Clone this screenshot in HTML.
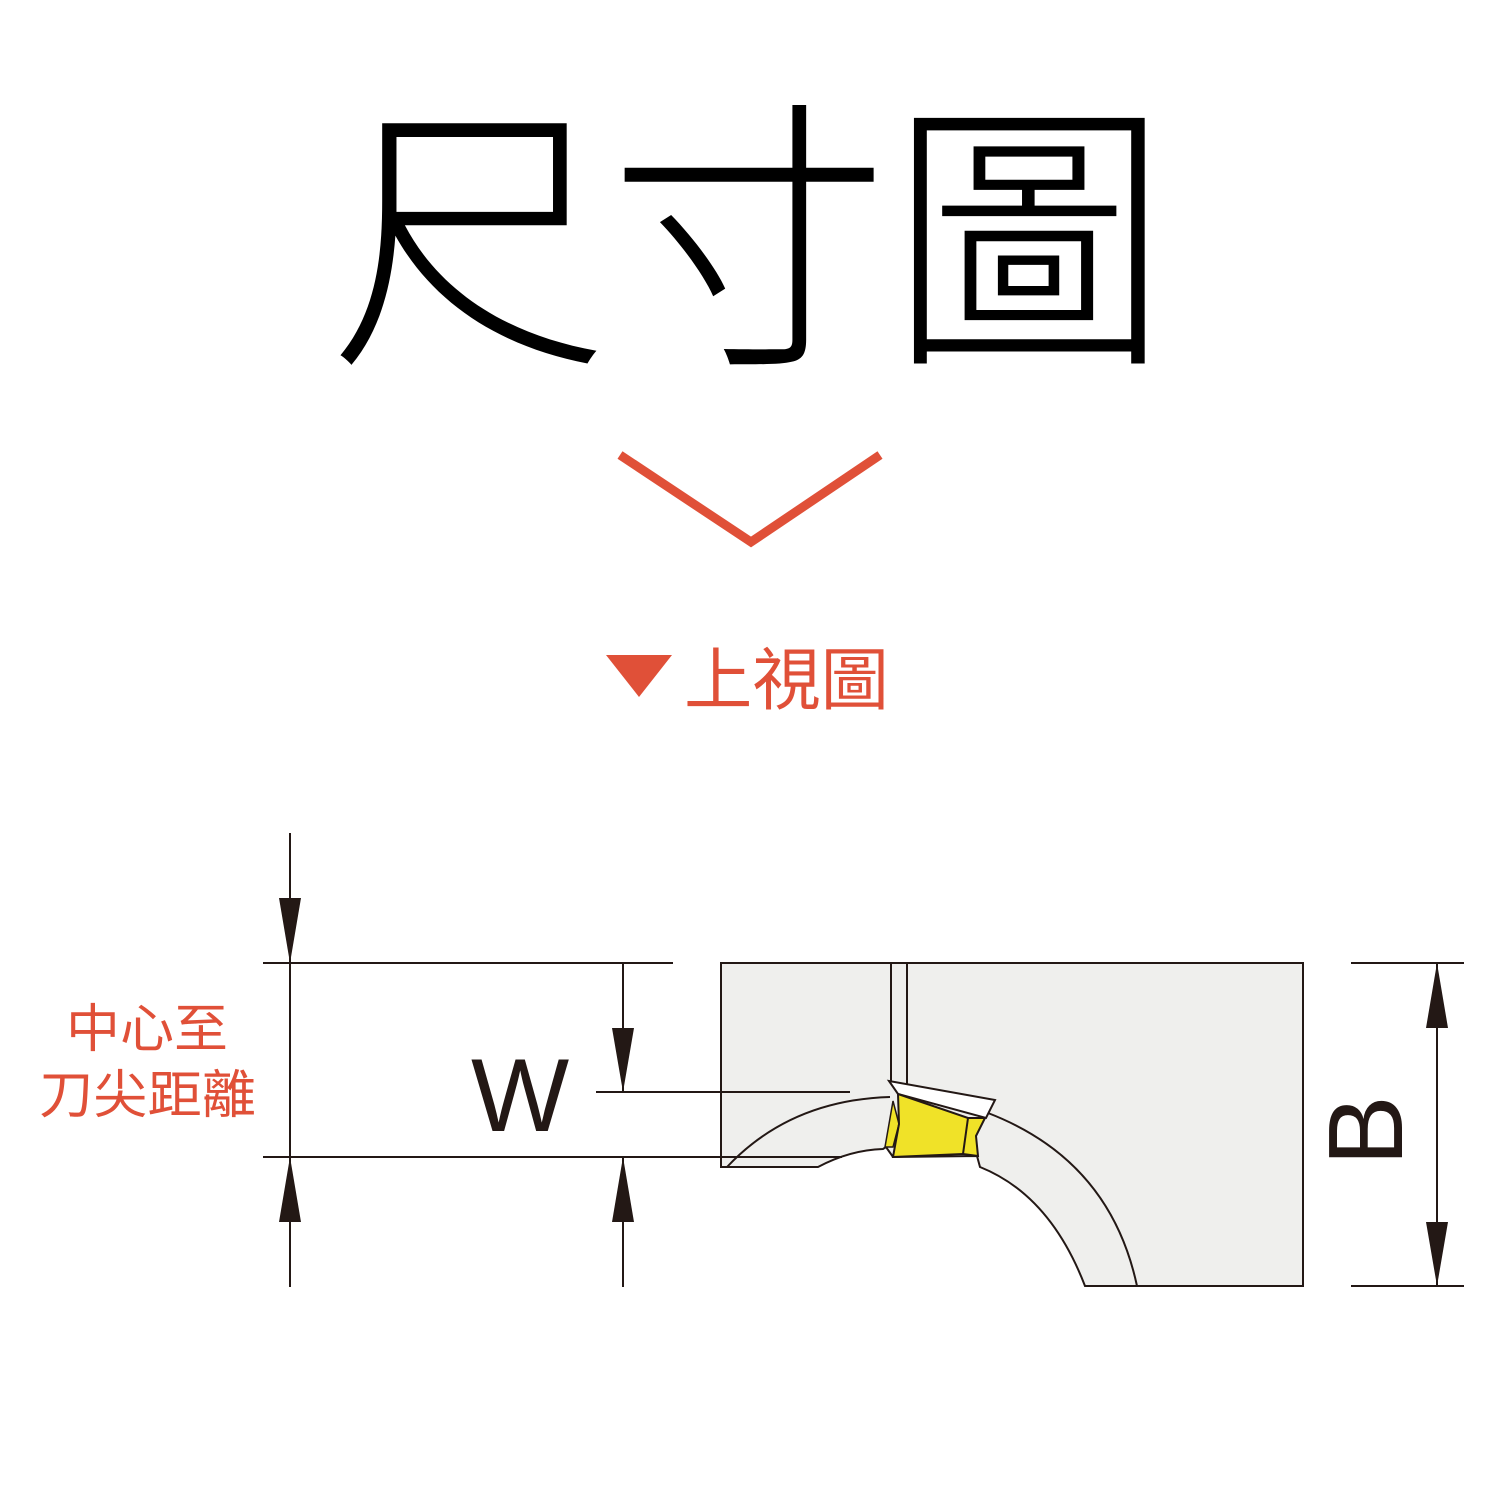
<!DOCTYPE html>
<html><head><meta charset="utf-8"><style>
html,body{margin:0;padding:0;background:#fff;}
svg{display:block;}
</style></head><body>
<svg width="1500" height="1500" viewBox="0 0 1500 1500" xmlns="http://www.w3.org/2000/svg">
<text x="329" y="343" font-family="'Noto Sans CJK TC','Noto Sans CJK SC',sans-serif" font-weight="300" font-size="285" textLength="840" lengthAdjust="spacingAndGlyphs" fill="#000">尺寸圖</text>
<polyline points="620,455 751,542 880,455" fill="none" stroke="#e05038" stroke-width="9"/>
<polygon points="606,655 672,655 639,697" fill="#e05038"/>
<text x="684" y="704" font-family="'Liberation Sans','Noto Sans CJK TC',sans-serif" font-size="68" textLength="205" lengthAdjust="spacingAndGlyphs" fill="#e05038">上視圖</text>
<text x="66" y="1047" font-family="'Liberation Sans','Noto Sans CJK TC',sans-serif" font-size="52" textLength="162" lengthAdjust="spacingAndGlyphs" fill="#e05038">中心至</text>
<text x="39" y="1113" font-family="'Liberation Sans','Noto Sans CJK TC',sans-serif" font-size="52" textLength="217" lengthAdjust="spacingAndGlyphs" fill="#e05038">刀尖距離</text>
<!-- block -->
<path d="M721,963 L1303,963 L1303,1286 L1085,1286 Q1050,1195 980,1167 L977,1156 L893,1157 L886,1147 L883,1149 Q850,1150 818,1167 L721,1167 Z" fill="#efefed" stroke="#231815" stroke-width="2"/>
<line x1="891" y1="963" x2="891" y2="1083" stroke="#231815" stroke-width="2"/>
<line x1="907" y1="963" x2="907" y2="1085" stroke="#231815" stroke-width="2"/>
<path d="M727,1167 Q790,1100 890,1097" fill="none" stroke="#231815" stroke-width="2"/>
<path d="M988,1113 Q1110,1160 1137,1286" fill="none" stroke="#231815" stroke-width="2"/>
<polygon points="889,1081 995,1100 986,1118 898,1094" fill="#fff" stroke="#231815" stroke-width="2"/>
<polygon points="893,1101 899,1124 893,1147 885,1147" fill="#f0e228" stroke="#231815" stroke-width="1.5"/>
<polygon points="898,1094 968,1118 985,1118 976,1136 978,1156 963,1154 893,1157 899,1124" fill="#f0e228" stroke="#231815" stroke-width="2"/>
<line x1="968" y1="1118" x2="963" y2="1154" stroke="#231815" stroke-width="2"/>
<!-- dims -->
<g stroke="#231815" stroke-width="2">
<line x1="263" y1="963" x2="673" y2="963"/>
<line x1="263" y1="1157" x2="842" y2="1157"/>
<line x1="596" y1="1092" x2="850" y2="1092"/>
<line x1="290" y1="833" x2="290" y2="1287"/>
<line x1="623" y1="963" x2="623" y2="1092"/>
<line x1="623" y1="1157" x2="623" y2="1287"/>
<line x1="1351" y1="963" x2="1464" y2="963"/>
<line x1="1351" y1="1286" x2="1464" y2="1286"/>
<line x1="1437" y1="963" x2="1437" y2="1286"/>
</g>
<g fill="#231815">
<polygon points="279,898 301,898 290,963"/>
<polygon points="279,1222 301,1222 290,1157"/>
<polygon points="612,1028 634,1028 623,1092"/>
<polygon points="612,1222 634,1222 623,1157"/>
<polygon points="1426,1028 1448,1028 1437,963"/>
<polygon points="1426,1222 1448,1222 1437,1286"/>
</g>
<text x="471" y="1131" font-family="'Liberation Sans',sans-serif" font-size="104" fill="#231815">W</text>
<text transform="translate(1402,1166) rotate(-90)" font-family="'Liberation Sans',sans-serif" font-size="106" fill="#231815">B</text>
</svg>
</body></html>
